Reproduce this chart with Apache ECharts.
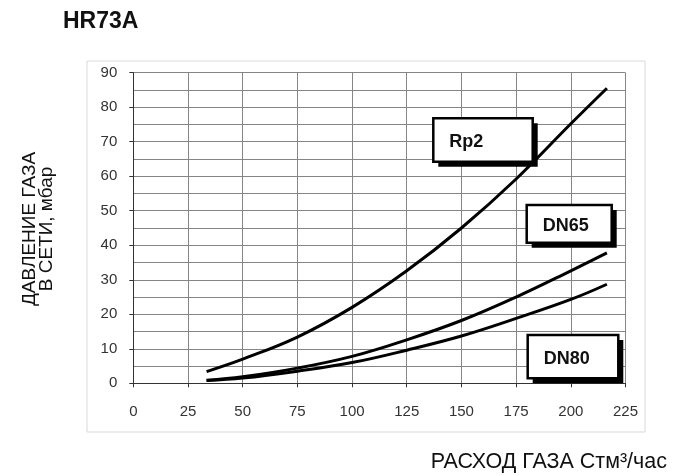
<!DOCTYPE html>
<html>
<head>
<meta charset="utf-8">
<script src="https://cdn.jsdelivr.net/npm/echarts@6/dist/echarts.min.js"></script>
<style>
html,body{margin:0;padding:0;background:#fff;}
#chart{width:673px;height:476px;}
</style>
</head>
<body>
<div id="chart"></div>
<script>
// ---- data ----
const flow = [33.5, 50, 75, 100, 125, 150, 175, 200, 216.5];
const rp2  = [3.4, 7.0, 13.4, 22.0, 32.6, 45.0, 59.2, 75.2, 85.5];
const dn65 = [0.9, 1.9, 4.4, 7.8, 12.6, 18.2, 25.0, 32.6, 37.8];
const dn80 = [0.8, 1.5, 3.5, 6.0, 9.6, 13.7, 18.8, 24.3, 28.7];
const seriesNames = ['Rp2', 'DN65', 'DN80'];
const xTickLabels = [0, 25, 50, 75, 100, 125, 150, 175, 200, 225];
const yTickLabels = [0, 10, 20, 30, 40, 50, 60, 70, 80, 90];
const titleText = 'HR73A';
const yNameLines = ['ДАВЛЕНИЕ ГАЗА', 'В СЕТИ, мбар'];
const xNameText = 'РАСХОД ГАЗА Стм³/час';

const FONT = 'Arial, "Liberation Sans", sans-serif';
const pair = (ys) => flow.map((x, i) => [x, ys[i]]);

const chart = echarts.init(document.getElementById('chart'), null, {renderer: 'canvas'});

function box(x, y, w, h, text) {
  return [
    {type: 'rect', shape: {x: x + 5, y: y + 5, width: w, height: h}, style: {fill: '#000'}, z: 10},
    {type: 'rect', shape: {x: x, y: y, width: w, height: h}, style: {fill: '#fff', stroke: '#000', lineWidth: 2.5}, z: 11},
    {type: 'text', x: x + 16, y: y + h / 2 + 2, style: {text: text, font: 'bold 18px ' + FONT, fill: '#111', textVerticalAlign: 'middle', verticalAlign: 'middle'}, z: 12}
  ];
}

const lineStyle = {color: '#000', width: 3};
const gridLine = {lineStyle: {color: '#858585', width: 1}};

chart.setOption({
  animation: false,
  backgroundColor: '#fff',
  grid: {left: 133.3, right: 47.5, top: 72.7, bottom: 92.7, containLabel: false},
  xAxis: {
    type: 'value', min: 0, max: 225, interval: 25,
    axisLine: {show: true, lineStyle: {color: '#333', width: 1}},
    axisTick: {show: true, length: 4, lineStyle: {color: '#333'}},
    axisLabel: {margin: 21, fontSize: 15, color: '#333', fontFamily: FONT,
      formatter: (v) => xTickLabels.includes(v) ? String(v) : ''},
    splitLine: Object.assign({show: true}, gridLine)
  },
  yAxis: {
    type: 'value', min: 0, max: 90, interval: 10,
    axisLine: {show: true, lineStyle: {color: '#333', width: 1}},
    axisTick: {show: true, length: 4, lineStyle: {color: '#333'}},
    minorTick: {show: false, splitNumber: 2},
    minorSplitLine: Object.assign({show: true}, gridLine),
    axisLabel: {margin: 16, fontSize: 15, color: '#333', fontFamily: FONT,
      formatter: (v) => yTickLabels.includes(v) ? String(v) : ''},
    splitLine: Object.assign({show: true}, gridLine)
  },
  series: [
    {name: seriesNames[0], type: 'line', data: pair(rp2), smooth: 0.4, showSymbol: false, lineStyle: lineStyle, z: 5},
    {name: seriesNames[1], type: 'line', data: pair(dn65), smooth: 0.4, showSymbol: false, lineStyle: lineStyle, z: 5},
    {name: seriesNames[2], type: 'line', data: pair(dn80), smooth: 0.4, showSymbol: false, lineStyle: lineStyle, z: 5}
  ],
  graphic: [
    {type: 'rect', shape: {x: 87, y: 61, width: 558, height: 371}, style: {fill: 'none', stroke: '#d9d9d9', lineWidth: 1}, z: 0, silent: true},
    {type: 'text', x: 63, y: 22, style: {text: titleText, font: 'bold 23px ' + FONT, fill: '#111', textVerticalAlign: 'middle', verticalAlign: 'middle'}},
    {type: 'text', x: 38, y: 229, rotation: Math.PI / 2,
      style: {text: yNameLines.join('\n'), font: '19px ' + FONT, fill: '#111', lineHeight: 17,
        textAlign: 'center', align: 'center', textVerticalAlign: 'middle', verticalAlign: 'middle'}},
    {type: 'text', x: 667, y: 462, style: {text: xNameText, font: '21.5px ' + FONT, fill: '#111',
      textAlign: 'right', align: 'right', textVerticalAlign: 'middle', verticalAlign: 'middle'}}
  ]
    .concat(box(433.3, 118.3, 99.4, 43.4, seriesNames[0]))
    .concat(box(526.7, 205, 85, 37.7, seriesNames[1]))
    .concat(box(527.7, 335, 90.6, 43.3, seriesNames[2]))
});
</script>
</body>
</html>
